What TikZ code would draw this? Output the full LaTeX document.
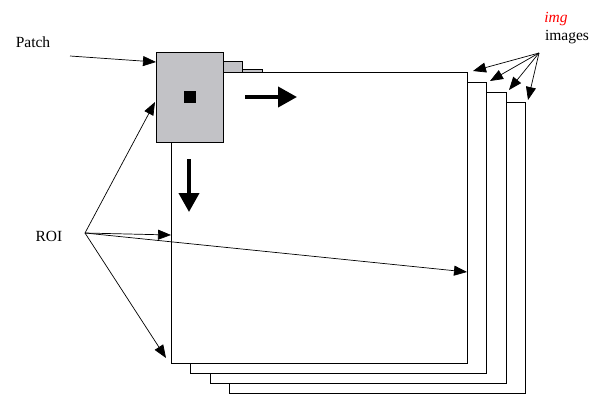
\documentclass[tikz,border=0pt]{standalone}
\usepackage{fontspec}
\setmainfont{Liberation Serif}
\usetikzlibrary{arrows.meta}
\definecolor{patchgray}{RGB}{194,194,198}
\begin{document}
\begin{tikzpicture}[x=1pt,y=-1pt,
  imgbox/.style={draw,fill=white,line width=1pt,inner sep=0pt,outer sep=0pt,anchor=north west,minimum width=296pt,minimum height=291pt},
  patchbox/.style={draw,fill=patchgray,line width=1pt,inner sep=0pt,outer sep=0pt,anchor=north west,minimum width=67pt,minimum height=90pt},
  thinarrow/.style={line width=0.7pt,-{Triangle[length=13pt,width=10pt]}},
  boldarrow/.style={line width=4pt,-{Triangle[length=19pt,width=20pt]}},
  lbl/.style={font=\fontsize{15.5}{17}\selectfont,inner sep=0pt}]
\useasboundingbox (0,0) rectangle (595,400);
% stack of images
\node[imgbox] (im4) at (229,102) {};
\node[imgbox] (im3) at (210,92) {};
\node[patchbox] (p3) at (195,69) {};
\node[imgbox] (im2) at (190,82) {};
\node[patchbox] (p2) at (175,61) {};
\node[imgbox] (im1) at (171,72) {};
\node[patchbox] (p1) at (156,52) {};
\node[fill=black,inner sep=0pt,minimum size=12pt] (dot) at (190,97) {};
% bold direction arrows
\coordinate (hs) at (245,97);
\coordinate (he) at (297,97);
\coordinate (vs) at (189,159);
\coordinate (ve) at (189,212);
\draw[boldarrow] (hs) -- (he);
\draw[boldarrow] (vs) -- (ve);
% labels
\node[lbl] (patch) at (33,42) {Patch};
\node[lbl] (roi) at (49,236) {ROI};
\node[lbl,text=red,font=\fontsize{15.5}{17}\selectfont\itshape] (img) at (556,19) {img};
\node[lbl] (images) at (567,37) {images};
% connector points
\coordinate (ps) at (70,56);
\coordinate (pt) at (156,62);
\coordinate (r0) at (85,233);
\coordinate (r1) at (155,102);
\coordinate (r2) at (171,235);
\coordinate (r3) at (467,272);
\coordinate (r4) at (166,358);
\coordinate (i0) at (539,53);
\coordinate (i1) at (473,71);
\coordinate (i2) at (490,81);
\coordinate (i3) at (509,90);
\coordinate (i4) at (528,100);
% thin arrows
\draw[thinarrow] (ps) -- (pt);
\foreach \t in {r1,r2,r3,r4} \draw[thinarrow] (r0) -- (\t);
\foreach \t in {i1,i2,i3,i4} \draw[thinarrow] (i0) -- (\t);
\end{tikzpicture}
\end{document}
